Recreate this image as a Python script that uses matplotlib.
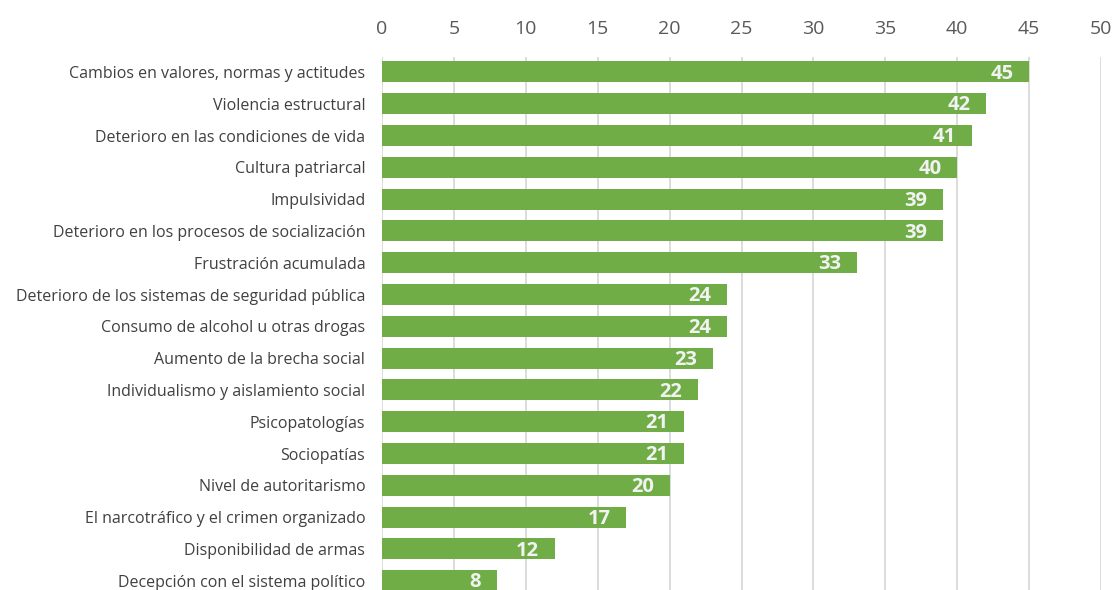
import matplotlib.pyplot as plt

# categorías y valores (de arriba hacia abajo)
categorias = [
    "Cambios en valores, normas y actitudes",
    "Violencia estructural",
    "Deterioro en las condiciones de vida",
    "Cultura patriarcal",
    "Impulsividad",
    "Deterioro en los procesos de socialización",
    "Frustración acumulada",
    "Deterioro de los sistemas de seguridad pública",
    "Consumo de alcohol u otras drogas",
    "Aumento de la brecha social",
    "Individualismo y aislamiento social",
    "Psicopatologías",
    "Sociopatías",
    "Nivel de autoritarismo",
    "El narcotráfico y el crimen organizado",
    "Disponibilidad de armas",
    "Decepción con el sistema político",
]
valores = [45, 42, 41, 40, 39, 39, 33, 24, 24, 23, 22, 21, 21, 20, 17, 12, 8]
ticks_x = [0, 5, 10, 15, 20, 25, 30, 35, 40, 45, 50]

plt.rcParams['font.family'] = ['Open Sans', 'DejaVu Sans']

fig = plt.figure(figsize=(11.14, 5.90), dpi=100)
ax = fig.add_axes([382 / 1114, 0, (1101 - 382) / 1114, 533 / 590])

pos = list(range(len(categorias)))
ax.barh(pos, valores, height=0.66, color="#70AD47", zorder=2)

# etiquetas de valor dentro del extremo de la barra
for p, v in zip(pos, valores):
    ax.text(v - 1.1, p + 0.05, str(v), ha="right", va="center", color="#F2F2F2",
            fontsize=14.5, fontweight="bold", zorder=3)

ax.set_xlim(0, 50)
ax.set_ylim(16.29, -0.47)
ax.set_xticks(ticks_x)
ax.set_yticks(pos)
ax.set_yticklabels(categorias)
ax.xaxis.tick_top()
ax.tick_params(axis="x", length=0, labelsize=14, labelcolor="#595959", pad=14)
ax.tick_params(axis="y", length=0, labelsize=11.5, labelcolor="#404040", pad=12)
ax.grid(True, axis="x", color="#D9D9D9", linewidth=1.3, zorder=0)
for s in ax.spines.values():
    s.set_visible(False)

fig.savefig("out.png", dpi=100)
